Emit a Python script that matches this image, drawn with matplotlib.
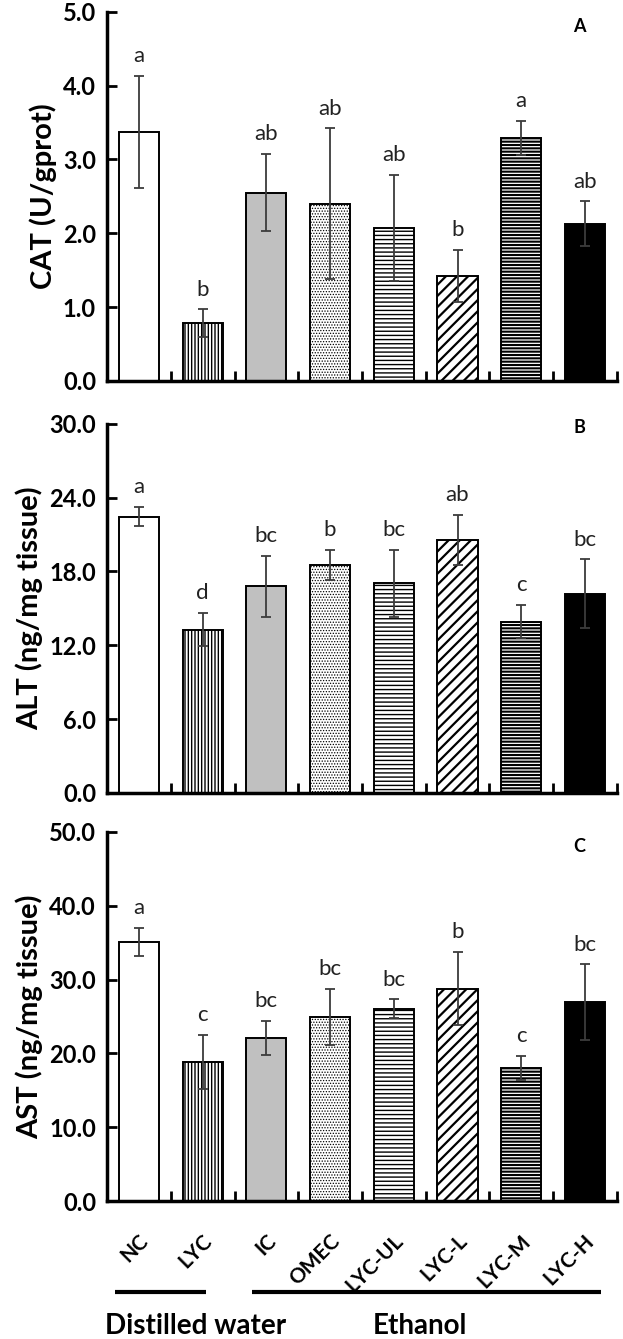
import numpy as np
import matplotlib
matplotlib.use("Agg")
import matplotlib.pyplot as plt
import matplotlib.transforms as mtransforms

plt.rcParams['font.family'] = ['Lato', 'DejaVu Sans']

groups = ["NC", "LYC", "IC", "OMEC", "LYC-UL", "LYC-L", "LYC-M", "LYC-H"]

cat_mean = [3.37, 0.78, 2.55, 2.40, 2.07, 1.42, 3.29, 2.13]
cat_err = [0.76, 0.19, 0.52, 1.02, 0.72, 0.35, 0.23, 0.30]
cat_sig = ["a", "b", "ab", "ab", "ab", "b", "a", "ab"]

alt_mean = [22.45, 13.27, 16.78, 18.54, 17.02, 20.55, 13.92, 16.18]
alt_err = [0.80, 1.35, 2.48, 1.23, 2.72, 2.05, 1.35, 2.80]
alt_sig = ["a", "d", "bc", "b", "bc", "ab", "c", "bc"]

ast_mean = [35.05, 18.82, 22.08, 24.89, 26.02, 28.78, 18.05, 26.92]
ast_err = [1.90, 3.68, 2.30, 3.80, 1.28, 4.95, 1.60, 5.12]
ast_sig = ["a", "c", "bc", "bc", "bc", "b", "c", "bc"]

# bar looks: fill colour, hatch, hatch line width
faces = ["white", "white", "#c0c0c0", "white", "white", "white", "white", "black"]
hatches = [None, "|||||", None, "......", "----", "///", "-----", None]
hatch_lw = [1.0, 1.0, 1.0, 0.6, 1.0, 1.6, 1.5, 1.0]

panels = [
    ("CAT (U/gprot)", cat_mean, cat_err, cat_sig, 5.0, 1.0, "A"),
    ("ALT (ng/mg tissue)", alt_mean, alt_err, alt_sig, 30.0, 6.0, "B"),
    ("AST (ng/mg tissue)", ast_mean, ast_err, ast_sig, 50.0, 10.0, "C"),
]
bottoms = [0.7155, 0.4078, 0.1030]

fig = plt.figure(figsize=(6.23, 13.39), dpi=100)
x = np.arange(len(groups))

for (ylab, mean, err, sig, ymax, step, tag), b in zip(panels, bottoms):
    ax = fig.add_axes([0.172, b, 0.818, 0.2758])
    for i in range(len(groups)):
        with plt.rc_context({"hatch.linewidth": hatch_lw[i]}):
            ax.bar(x[i], mean[i], width=0.63, color=faces[i], edgecolor="black",
                   linewidth=1.4, hatch=hatches[i], zorder=2)
    ax.errorbar(x, mean, yerr=err, fmt="none", ecolor="#3c3c3c",
                elinewidth=1.3, capsize=3.5, capthick=1.3, zorder=3)
    for i in range(len(groups)):
        ax.annotate(sig[i], (x[i], mean[i] + err[i]), xytext=(0, 7),
                    textcoords="offset points", ha="center", va="bottom",
                    fontsize=16, color="#222222")
    ticks = np.arange(0, ymax + step / 2, step)
    ax.set_xlim(-0.5, 7.5)
    ax.set_ylim(0, ymax)
    ax.set_yticks(ticks)
    ax.set_yticklabels([f"{v:.1f}" for v in ticks], fontsize=17, fontweight="bold")
    ax.set_xticks(x + 0.5)
    ax.set_xticklabels([])
    ax.tick_params(axis="both", direction="in", length=7, width=2, pad=8)
    for s in ["top", "right"]:
        ax.spines[s].set_visible(False)
    for s in ["left", "bottom"]:
        ax.spines[s].set_linewidth(2.5)
    ax.set_ylabel(ylab, fontsize=21, fontweight="bold", labelpad=4)
    ax.text(0.927, 0.96 if tag != "B" else 0.99, tag, transform=ax.transAxes,
            fontsize=13, fontweight="bold", ha="center", va="center")

# group names under the bottom panel
trans = mtransforms.blended_transform_factory(ax.transData, ax.transAxes)
for i, g in enumerate(groups):
    ax.text(x[i] + 0.1, -0.1, g, transform=trans, rotation=45,
            rotation_mode="anchor", ha="right", va="center",
            fontsize=15, fontweight="bold")

ax.plot([-0.375, 1.05], [-0.245, -0.245], transform=trans, color="black",
        lw=3, clip_on=False, solid_capstyle="butt")
ax.plot([1.77, 7.25], [-0.245, -0.245], transform=trans, color="black",
        lw=3, clip_on=False, solid_capstyle="butt")
ax.text(0.88, -0.337, "Distilled water", transform=trans, ha="center",
        va="center", fontsize=20, fontweight="bold")
ax.text(4.41, -0.337, "Ethanol", transform=trans, ha="center",
        va="center", fontsize=20, fontweight="bold")

fig.savefig("out.png", dpi=100)
